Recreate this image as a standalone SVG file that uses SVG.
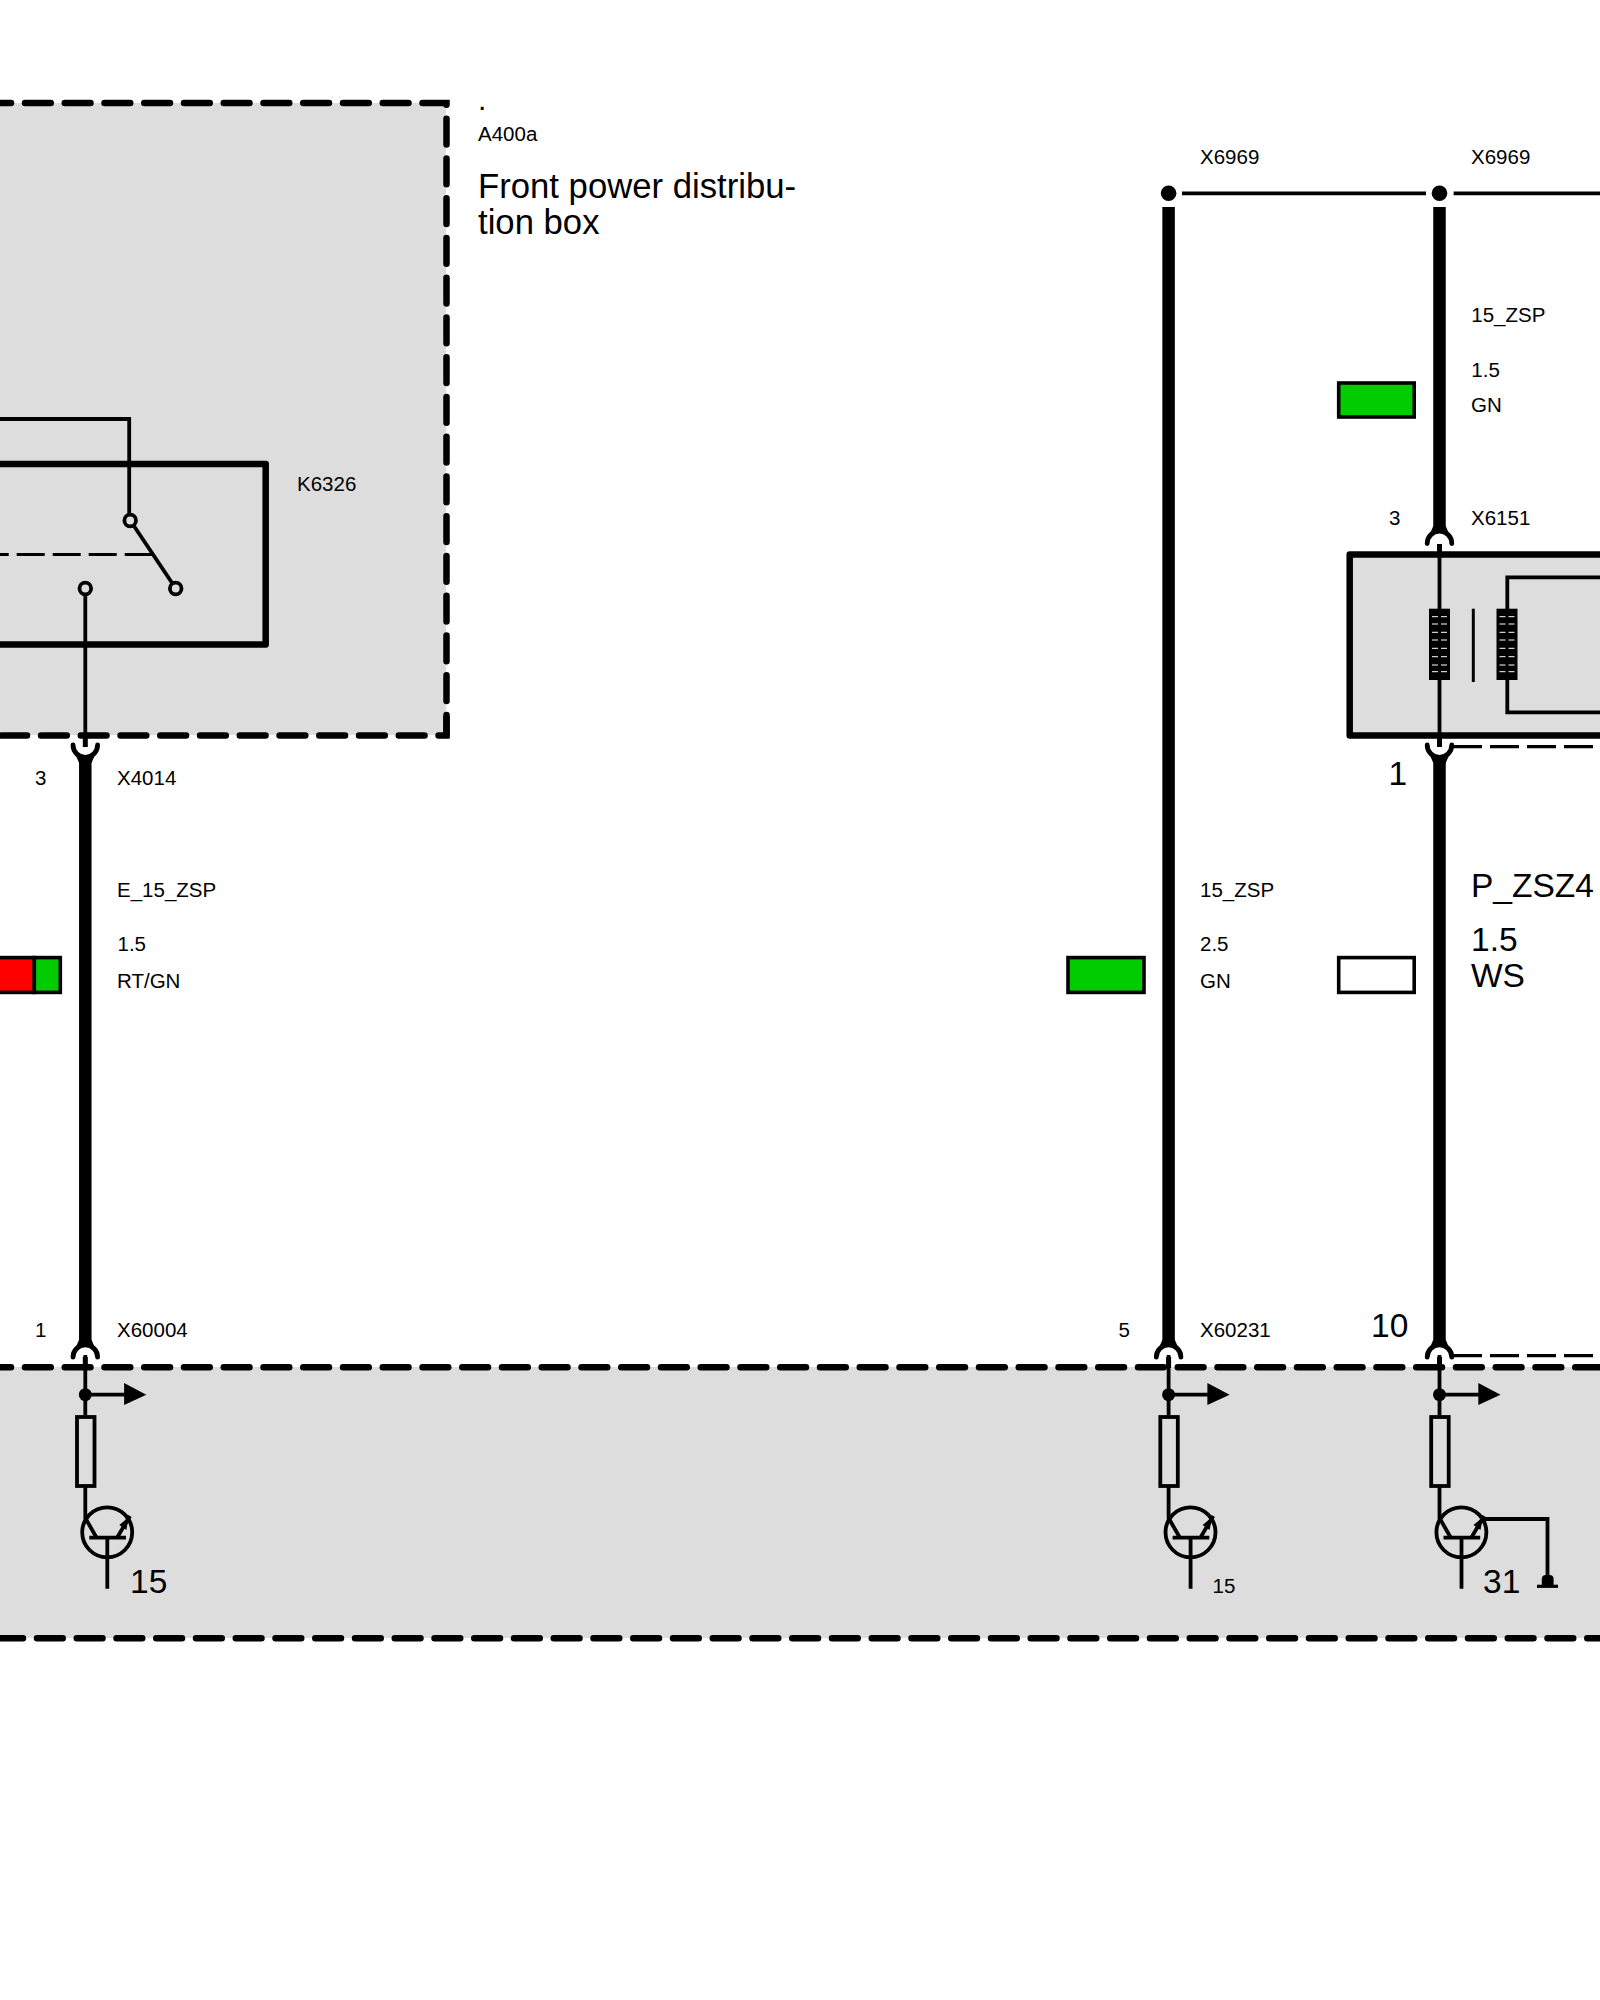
<svg xmlns="http://www.w3.org/2000/svg" xmlns:xlink="http://www.w3.org/1999/xlink" width="1600" height="2000" viewBox="0 0 1600 2000">
<style>
text{font-family:"Liberation Sans",Arial,sans-serif;fill:#000}
.s{font-size:20.5px}
.l{font-size:33.5px}
.t{font-size:34.7px}
.zone{fill:#dddddd;stroke:none}
.zb{fill:none;stroke:#000;stroke-width:6.5;stroke-dasharray:25.75 14;stroke-linecap:round;stroke-linejoin:miter}
.thick{fill:none;stroke:#000;stroke-width:12.5}
.thin{fill:none;stroke:#000;stroke-width:3.8}
.stub{fill:none;stroke:#000;stroke-width:5}
.socket{fill:none;stroke:#000;stroke-width:4.8;stroke-linecap:round}
.dash{fill:none;stroke:#000;stroke-width:3.2;stroke-dasharray:29 8}
.box{fill:none;stroke:#000;stroke-width:6.5;stroke-linejoin:round}
.swatch{stroke:#000;stroke-width:3.6}
.sym{fill:none;stroke:#000;stroke-width:3.8}
.blk{fill:#000;stroke:none}
</style>
<defs>
<g id="sockTop"><path class="blk" d="M-6.2,526 L-9,532.5 L9,532.5 L6.2,526Z"/><path class="socket" d="M-12.3,543.5 A12.3,12.3 0 0 1 12.3,543.5"/></g>
<g id="sockBot"><path class="blk" d="M-6.2,18 L-9,11.5 L9,11.5 L6.2,18Z"/><path class="socket" d="M-12.3,0 A12.3,12.3 0 0 0 12.3,0"/></g>
<g id="driver">
<path class="sym" d="M0,1355 V1415.3"/>
<path class="stub" d="M0,1357 V1368"/>
<circle class="blk" cx="0" cy="1394.7" r="6.5"/>
<path class="sym" d="M0,1394.7 H40"/>
<path class="blk" d="M38.8,1383 L61,1394.7 L38.8,1405Z"/>
<rect x="-8.3" y="1417" width="17.5" height="69" fill="none" stroke="#000" stroke-width="3.8"/>
<path class="sym" d="M0,1486 V1518 L11.3,1537.7"/>
<circle class="sym" cx="21.9" cy="1532.3" r="25"/>
<path class="sym" d="M4,1537.7 H40.7 M22,1537.7 V1588.7 M31.7,1537.7 L44.7,1516"/>
<path class="blk" d="M34,1525 L43.5,1517 L41,1530Z"/>
</g>
<g id="coil">
<rect class="blk" x="-10.5" y="608.7" width="21" height="71.3"/>
<path fill="none" stroke="#fff" stroke-width="1" stroke-dasharray="6 3" d="M-7.5,616.7 H8 M-7.5,624 H8 M-7.5,632.3 H8 M-7.5,640 H8 M-7.5,648.3 H8 M-7.5,656.7 H8 M-7.5,665 H8 M-7.5,671.7 H8"/>
</g>
</defs>

<g id="zones">
<rect class="zone" x="0" y="103" width="446" height="632"/>
<rect class="zone" x="0" y="1367" width="1600" height="271"/>
<rect class="zone" x="1350" y="554.7" width="250" height="180.6"/>
</g>

<g id="connectors">
<path class="thick" d="M85.3,755 V1344"/>
<path class="thick" d="M1168.6,207 V1344"/>
<path class="thick" d="M1439.5,207 V533"/>
<path class="thick" d="M1439.5,755 V1344"/>
<path class="thin" d="M1182,193.3 H1426 M1453.6,193.3 H1600"/>
<path class="dash" d="M1453,746.7 H1600"/>
<path class="dash" d="M1453,1355.7 H1600"/>
<path class="thin" d="M0,419 H129.2 V514"/>
<path class="thin" d="M85.3,595 V735"/>
<path class="stub" d="M85.3,735 V747"/>
<path class="stub" d="M1439.5,544 V558 M1439.5,735 V747"/>
<path class="thin" d="M1439.5,555 V609 M1439.5,680 V736"/>
<path class="thin" d="M1600,577.3 H1507.3 V609 M1507.3,680 V712.3 H1600"/>
<path class="thin" d="M1483,1519 H1547.5 V1578"/>
</g>

<g id="A400a">
<path class="zb" d="M-14.75,103 H446.5 V735"/>
<path class="zb" d="M446.5,717.7 V735.5 H0"/>
<text x="478" y="110" style="font-size:30px">.</text>
<text class="s" x="478" y="140.7">A400a</text>
<text class="t" x="478" y="197.7">Front power distribu-</text>
<text class="t" x="478" y="233.5">tion box</text>
</g>

<g id="K6326">
<path class="box" d="M-10,464 H265.7 V644.5 H-10"/>
<circle class="sym" cx="130.2" cy="520.5" r="5.8"/>
<circle class="sym" cx="175.7" cy="588.5" r="5.8"/>
<circle class="sym" cx="85.3" cy="588.5" r="5.8"/>
<path class="sym" d="M133.3,525 L172.6,583.8"/>
<path fill="none" stroke="#000" stroke-width="2.8" stroke-dasharray="28 8" d="M152.7,554.5 H0"/>
<text class="s" x="297" y="490.8">K6326</text>
</g>

<g id="bottom-zone">
<path class="zb" d="M-14.75,1367.3 H1600"/>
<path class="zb" d="M-2.75,1638.3 H1600"/>
</g>

<g id="X4014">
<use xlink:href="#sockBot" href="#sockBot" transform="translate(85.3,745)"/>
<text class="s" x="35" y="785">3</text>
<text class="s" x="117" y="785">X4014</text>
</g>
<g id="wire-E_15_ZSP">
<text class="s" x="117" y="896.7">E_15_ZSP</text>
<text class="s" x="117.5" y="951">1.5</text>
<text class="s" x="117" y="988">RT/GN</text>
<rect class="swatch" x="-10" y="957.6" width="44.3" height="34.8" fill="#ff0000"/>
<rect class="swatch" x="34.3" y="957.6" width="26" height="34.8" fill="#00cc00"/>
</g>
<g id="X60004">
<use xlink:href="#sockTop" href="#sockTop" transform="translate(85.3,813.7)"/>
<text class="s" x="35" y="1337">1</text>
<text class="s" x="117" y="1337">X60004</text>
<use xlink:href="#driver" href="#driver" transform="translate(85.3,0)"/>
<text class="l" x="130" y="1592.7">15</text>
</g>

<g id="X6969-a">
<circle class="blk" cx="1168.6" cy="193.3" r="7.8"/>
<text class="s" x="1200" y="164">X6969</text>
</g>
<g id="wire-15_ZSP-a">
<text class="s" x="1200" y="896.7">15_ZSP</text>
<text class="s" x="1200" y="951">2.5</text>
<text class="s" x="1200" y="988">GN</text>
<rect class="swatch" x="1068" y="957.6" width="76" height="34.8" fill="#00cc00"/>
</g>
<g id="X60231">
<use xlink:href="#sockTop" href="#sockTop" transform="translate(1168.6,813.7)"/>
<text class="s" x="1118.5" y="1337">5</text>
<text class="s" x="1200" y="1337">X60231</text>
<use xlink:href="#driver" href="#driver" transform="translate(1168.6,0)"/>
<text class="s" x="1212.5" y="1592.7">15</text>
</g>

<g id="X6969-b">
<circle class="blk" cx="1439.5" cy="193.3" r="7.8"/>
<text class="s" x="1471" y="164">X6969</text>
</g>
<g id="wire-15_ZSP-b">
<text class="s" x="1471.3" y="322">15_ZSP</text>
<text class="s" x="1471.3" y="377">1.5</text>
<text class="s" x="1471" y="412">GN</text>
<rect class="swatch" x="1338.7" y="383" width="75.5" height="34" fill="#00cc00"/>
</g>
<g id="X6151">
<use xlink:href="#sockTop" href="#sockTop"  transform="translate(1439.5,0)"/>
<text class="s" x="1389" y="525">3</text>
<text class="s" x="1471" y="525">X6151</text>
<path class="box" d="M1610,554.5 H1349.7 V735.5 H1610"/>
<use xlink:href="#coil" href="#coil" transform="translate(1439.5,0)"/>
<path fill="none" stroke="#000" stroke-width="3" d="M1473.3,608.7 V682"/>
<use xlink:href="#coil" href="#coil" transform="translate(1507,0)"/>
<use xlink:href="#sockBot" href="#sockBot" transform="translate(1439.5,745)"/>
<text class="l" x="1388.5" y="785">1</text>
</g>
<g id="wire-P_ZSZ4">
<text class="l" x="1471" y="896.7">P_ZSZ4</text>
<text class="l" x="1471" y="950.7">1.5</text>
<text class="l" x="1471" y="986.7">WS</text>
<rect class="swatch" x="1338.7" y="957.6" width="75.5" height="34.8" fill="#fff"/>
</g>
<g id="X60-pin10">
<use xlink:href="#sockTop" href="#sockTop" transform="translate(1439.5,813.7)"/>
<text class="l" x="1371" y="1337">10</text>
<use xlink:href="#driver" href="#driver" transform="translate(1439.5,0)"/>
<text class="l" x="1483" y="1592.7">31</text>
</g>
<g id="ground">
<path class="blk" d="M1541.8,1579 Q1541.8,1575 1546,1575 H1549.5 Q1553.6,1575 1553.6,1579 V1586 H1541.8Z"/>
<path fill="none" stroke="#000" stroke-width="3.2" d="M1537,1586.3 H1558"/>
</g>
</svg>
